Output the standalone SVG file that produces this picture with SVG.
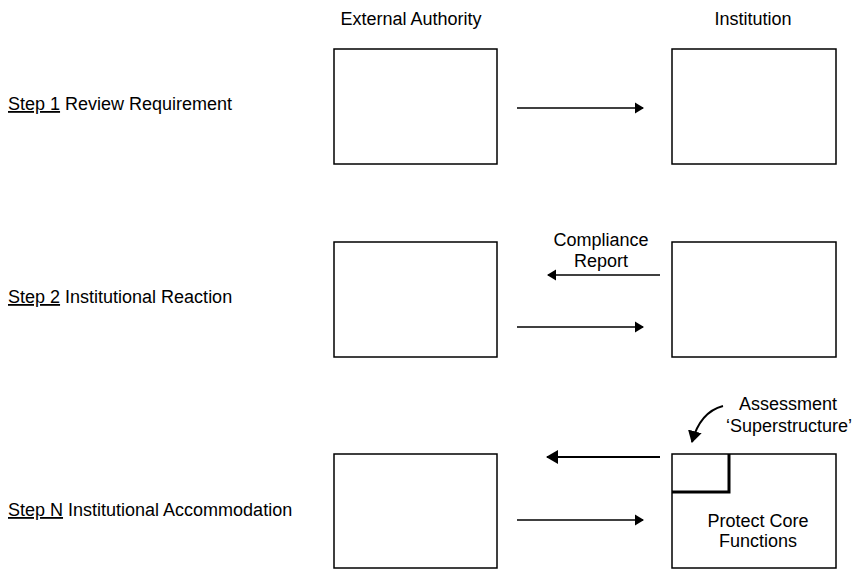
<svg xmlns="http://www.w3.org/2000/svg" width="856" height="569" viewBox="0 0 856 569">
<style>
text{font-family:"Liberation Sans",Arial,sans-serif;font-size:18px;fill:#000}
.c{text-anchor:middle}
.box{fill:#fff;stroke:#000;stroke-width:1.5}
.ln{stroke:#000;stroke-width:1.5;fill:none}
.u{text-decoration:underline}
</style>
<defs>
<marker id="ah" markerWidth="9" markerHeight="12" refX="8" refY="6" orient="auto" markerUnits="userSpaceOnUse"><path d="M0,0.5 L9,6 L0,11.5 Z" fill="#000"/></marker>
<marker id="ah2" markerWidth="12" markerHeight="14" refX="11" refY="7" orient="auto" markerUnits="userSpaceOnUse"><path d="M0,0 L12,7 L0,14 Z" fill="#000"/></marker>
</defs>
<rect width="856" height="569" fill="#fff"/>
<text class="c" x="411" y="25">External Authority</text>
<text class="c" x="753" y="25">Institution</text>
<g id="step1"><text x="8" y="110"><tspan class="u">Step 1</tspan> Review Requirement</text></g>
<g id="step2"><text x="8" y="303"><tspan class="u">Step 2</tspan> Institutional Reaction</text></g>
<g id="stepN"><text x="8" y="516"><tspan class="u">Step N</tspan> Institutional Accommodation</text></g>
<g id="ea1"><rect class="box" x="334" y="49" width="163" height="115"/></g>
<g id="in1"><rect class="box" x="672" y="49" width="164" height="115"/></g>
<g id="ea2"><rect class="box" x="334" y="242" width="163" height="115"/></g>
<g id="in2"><rect class="box" x="672" y="242" width="164" height="115"/></g>
<g id="ea3"><rect class="box" x="334" y="454" width="163" height="114"/></g>
<g id="in3"><rect class="box" x="672" y="454" width="164" height="114"/>
<path d="M672,492 L729,492 L729,454" fill="none" stroke="#000" stroke-width="3"/>
<text class="c" x="758" y="527">Protect Core</text>
<text class="c" x="758" y="547">Functions</text></g>
<g id="connectors">
<line class="ln" x1="517" y1="108" x2="643" y2="108" marker-end="url(#ah)"/>
<line class="ln" x1="660" y1="275" x2="548" y2="275" marker-end="url(#ah)"/>
<line class="ln" x1="517" y1="327" x2="643" y2="327" marker-end="url(#ah)"/>
<line x1="660" y1="457" x2="547" y2="457" stroke="#000" stroke-width="2" marker-end="url(#ah2)"/>
<line class="ln" x1="517" y1="520" x2="643" y2="520" marker-end="url(#ah)"/>
<path d="M723,406 Q700,412 692,442" fill="none" stroke="#000" stroke-width="2" marker-end="url(#ah2)"/>
</g>
<g id="labels">
<text class="c" x="601" y="246">Compliance</text>
<text class="c" x="601" y="267">Report</text>
<text class="c" x="788" y="410">Assessment</text>
<text class="c" x="789" y="432">‘Superstructure’</text>
</g>
</svg>
